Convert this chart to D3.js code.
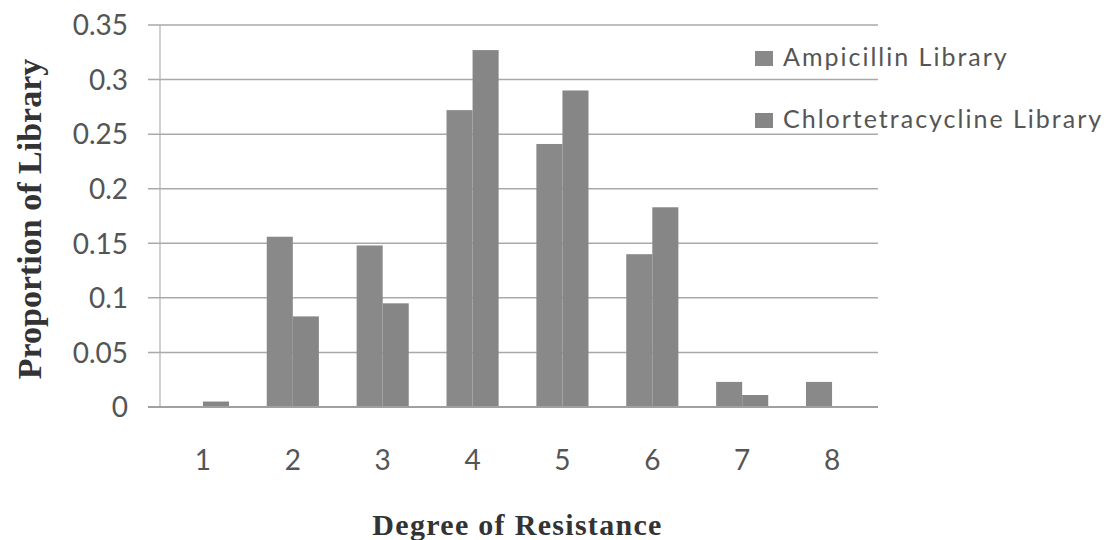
<!DOCTYPE html>
<html><head><meta charset="utf-8">
<script src="https://cdn.jsdelivr.net/npm/d3@7"></script>
<style>
html,body{margin:0;padding:0;background:#fff;}
svg{display:block;}
</style></head>
<body>
<svg id="chart" width="1112" height="540"></svg>
<script>
const categories = ["1","2","3","4","5","6","7","8"];
const seriesNames = ["Ampicillin Library","Chlortetracycline Library"];
const ampicillin = [0, 0.156, 0.148, 0.272, 0.241, 0.140, 0.023, 0.023];
const chlortetracycline = [0.005, 0.083, 0.095, 0.327, 0.290, 0.183, 0.011, 0];
const yTickValues = [0, 0.05, 0.1, 0.15, 0.2, 0.25, 0.3, 0.35];
const yTickLabels = ["0","0.05","0.1","0.15","0.2","0.25","0.3","0.35"];
const xTitle = "Degree of Resistance";
const yTitle = "Proportion of Library";

(function(){
const svg = d3.select("#chart");
const mLeft = 158, mRight = 877, mTop = 25, mBottom = 407;
const colors = ["#898989", "#868686"];

const x0 = d3.scaleBand().domain(categories).range([mLeft, mRight]).paddingInner(0.42).paddingOuter(0.21);
const x1 = d3.scaleBand().domain(seriesNames).range([0, x0.bandwidth()]);
const y = d3.scaleLinear().domain([0, 0.35]).range([mBottom, mTop]);

// gridlines
svg.append("g").selectAll("line").data(yTickValues).join("line")
  .attr("x1", 148).attr("x2", 878)
  .attr("y1", d => y(d)).attr("y2", d => y(d))
  .attr("stroke", "#a9a9a9").attr("stroke-width", 1.5);

// y axis labels
const yAxis = d3.axisLeft(y).tickValues(yTickValues).tickFormat((d,i) => yTickLabels[i]).tickSize(0).tickPadding(0);
const yg = svg.append("g").attr("transform", `translate(128,0)`).call(yAxis);
yg.select(".domain").remove();
yg.selectAll("text").attr("font-family", "Lato, 'Open Sans', sans-serif").attr("font-size", 28).attr("fill", "#555").attr("dy", "0.35em");

// y axis line
svg.append("line").attr("x1", 160).attr("x2", 160).attr("y1", mTop).attr("y2", mBottom)
  .attr("stroke", "#b0b0b0").attr("stroke-width", 1.2);

// bars
const data = categories.map((c, i) => ({cat: c, vals: [ampicillin[i], chlortetracycline[i]]}));
const groups = svg.append("g").selectAll("g").data(data).join("g")
  .attr("transform", d => `translate(${x0(d.cat)},0)`);
groups.selectAll("rect").data(d => d.vals.map((v, k) => ({name: seriesNames[k], v, k}))).join("rect")
  .attr("x", d => x1(d.name)).attr("width", x1.bandwidth())
  .attr("y", d => y(d.v)).attr("height", d => y(0) - y(d.v))
  .attr("fill", d => colors[d.k]);

// x axis line
svg.append("line").attr("x1", 148).attr("x2", 878).attr("y1", mBottom).attr("y2", mBottom)
  .attr("stroke", "#a0a0a0").attr("stroke-width", 1.8);

// x axis labels
const xAxis = d3.axisBottom(x0).tickSize(0).tickPadding(0);
const xg = svg.append("g").attr("transform", `translate(0,460)`).call(xAxis);
xg.select(".domain").remove();
xg.selectAll("text").attr("font-family", "Lato, 'Open Sans', sans-serif").attr("font-size", 28).attr("fill", "#555").attr("dy", "0.35em");

// titles
svg.append("text").attr("x", (mLeft + mRight) / 2).attr("y", 535)
  .attr("text-anchor", "middle").attr("font-family", "'Liberation Serif', 'Times New Roman', serif")
  .attr("font-weight", "bold").attr("font-size", 30).attr("letter-spacing", 1.3).attr("fill", "#333").text(xTitle);
svg.append("text").attr("transform", `translate(41,${(mTop + mBottom) / 2 + 3}) rotate(-90)`)
  .attr("text-anchor", "middle").attr("font-family", "'Liberation Serif', 'Times New Roman', serif")
  .attr("font-weight", "bold").attr("font-size", 34).attr("fill", "#333").text(yTitle);

// legend
const legend = svg.append("g").selectAll("g").data(seriesNames).join("g")
  .attr("transform", (d, i) => `translate(755,${66 + i * 62})`);
legend.append("rect").attr("x", 0).attr("y", -15).attr("width", 18).attr("height", 15)
  .attr("fill", (d, i) => colors[i]);
legend.append("text").attr("x", 28).attr("y", 0)
  .attr("font-family", "Lato, 'Open Sans', sans-serif").attr("font-size", 25).attr("letter-spacing", 2).attr("fill", "#555")
  .text(d => d);
})();
</script>
</body></html>
